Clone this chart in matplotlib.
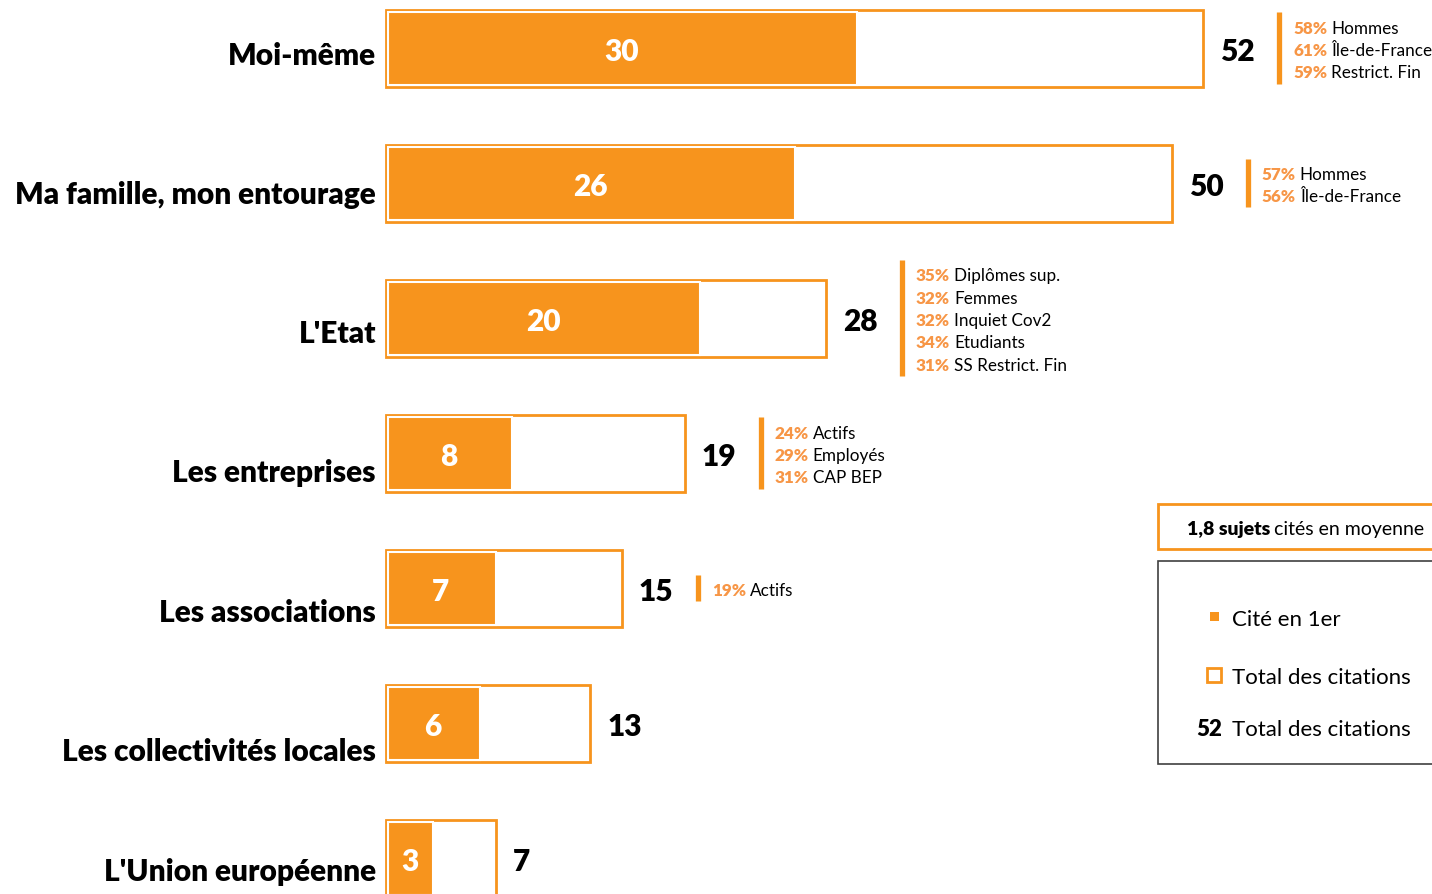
import matplotlib
matplotlib.use('Agg')
import matplotlib.pyplot as plt
from matplotlib.patches import Rectangle

plt.rcParams['font.family'] = ['Lato', 'DejaVu Sans']

# données
categories = ['Moi-même', 'Ma famille, mon entourage', "L'Etat", 'Les entreprises',
              'Les associations', 'Les collectivités locales', "L'Union européenne"]
cite_1er = [30, 26, 20, 8, 7, 6, 3]
total = [52, 50, 28, 19, 15, 13, 7]
details = [
    [('58%', 'Hommes'), ('61%', 'Île-de-France'), ('59%', 'Restrict. Fin')],
    [('57%', 'Hommes'), ('56%', 'Île-de-France')],
    [('35%', 'Diplômes sup.'), ('32%', 'Femmes'), ('32%', 'Inquiet Cov2'),
     ('34%', 'Etudiants'), ('31%', 'SS Restrict. Fin')],
    [('24%', 'Actifs'), ('29%', 'Employés'), ('31%', 'CAP BEP')],
    [('19%', 'Actifs')],
    [],
    [],
]

ORANGE = '#F7941D'
PCT = '#F79646'
W, H = 1432, 895

# échelle en pixels
X0_PX = 386          # origine des barres
SCALE = 817 / 52     # px par point
ROW0_PX, ROW_PX = 49, 135
label_y_px = [53, 192, 331, 470, 610, 749, 869]
BIG = 21.5
HEAVY = 'heavy'

fig = plt.figure(figsize=(W / 100, H / 100), dpi=100)
ax = fig.add_axes([0, 0, 1, 1])
ax.set_xlim(-X0_PX / SCALE, (W - X0_PX) / SCALE)
ax.set_ylim((H - ROW0_PX) / ROW_PX, -ROW0_PX / ROW_PX)
ax.axis('off')

y = list(range(len(categories)))
bar_h = 77 / ROW_PX
inset = 2 / SCALE
dy = 3 / ROW_PX   # petit décalage vertical du texte

ax.barh(y, total, height=bar_h, color='white', edgecolor=ORANGE, linewidth=2, zorder=2)
ax.barh(y, [v - inset for v in cite_1er], left=inset, height=bar_h - 4 / ROW_PX,
        color=ORANGE, edgecolor='white', linewidth=1.5, zorder=3)

for i, (c, v, t) in enumerate(zip(categories, cite_1er, total)):
    ax.text(v / 2, i + dy, str(v), color='white', fontsize=BIG, fontweight=HEAVY,
            ha='center', va='center', zorder=4)
    ax.text(t + 17 / SCALE, i + dy, str(t), color='black', fontsize=BIG, fontweight=HEAVY,
            ha='left', va='center')
    ax.text(-10 / SCALE, (label_y_px[i] - ROW0_PX) / ROW_PX + dy, c, fontsize=BIG,
            fontweight=HEAVY, ha='right', va='center')

    # détails à droite
    n = len(details[i])
    if n == 0:
        continue
    bx = t + 76 / SCALE
    half = (22.4 * n + 4) / 2 / ROW_PX
    ax.plot([bx, bx], [i - half, i + half], color=ORANGE, lw=3.8, solid_capstyle='butt')
    for k, (pct, lab) in enumerate(details[i]):
        yy = i + (2 + (k - (n - 1) / 2) * 22.4) / ROW_PX
        t1 = ax.text(bx + 14 / SCALE, yy, pct, color=PCT, fontsize=12.3,
                     fontweight=HEAVY, ha='left', va='center')
        ax.annotate(lab, xy=(1, 0.5), xycoords=t1, xytext=(3, 0),
                    textcoords='offset points', fontsize=12.3, ha='left', va='center')


def fx(px):
    return px / W


def fy(py):
    return 1 - py / H


# encadré moyenne
fig.add_artist(Rectangle((fx(1158), fy(550)), fx(290), 45 / H, transform=fig.transFigure,
                         facecolor='white', edgecolor=ORANGE, lw=2, zorder=-1))
t1 = fig.text(fx(1187), fy(530), '1,8 sujets', fontsize=14, fontweight=HEAVY,
              ha='left', va='center')
ax.annotate('cités en moyenne', xy=(1, 0.5), xycoords=t1, xytext=(3, 0),
            textcoords='offset points', fontsize=14, ha='left', va='center',
            annotation_clip=False)

# légende
fig.add_artist(Rectangle((fx(1158), fy(765)), fx(290), 203 / H, transform=fig.transFigure,
                         facecolor='white', edgecolor='#404040', lw=1.2, zorder=-1))
fig.add_artist(Rectangle((fx(1210), fy(622)), fx(9), 9 / H, transform=fig.transFigure,
                         facecolor=ORANGE, edgecolor='none'))
fig.add_artist(Rectangle((fx(1207), fy(683)), fx(14), 14 / H, transform=fig.transFigure,
                         facecolor='white', edgecolor=ORANGE, lw=2))
fig.text(fx(1232), fy(620), 'Cité en 1er', fontsize=16, ha='left', va='center')
fig.text(fx(1232), fy(678), 'Total des citations', fontsize=16, ha='left', va='center')
fig.text(fx(1222), fy(730), '52', fontsize=16, fontweight=HEAVY, ha='right', va='center')
fig.text(fx(1232), fy(730), 'Total des citations', fontsize=16, ha='left', va='center')

fig.savefig('out.png', dpi=100)
